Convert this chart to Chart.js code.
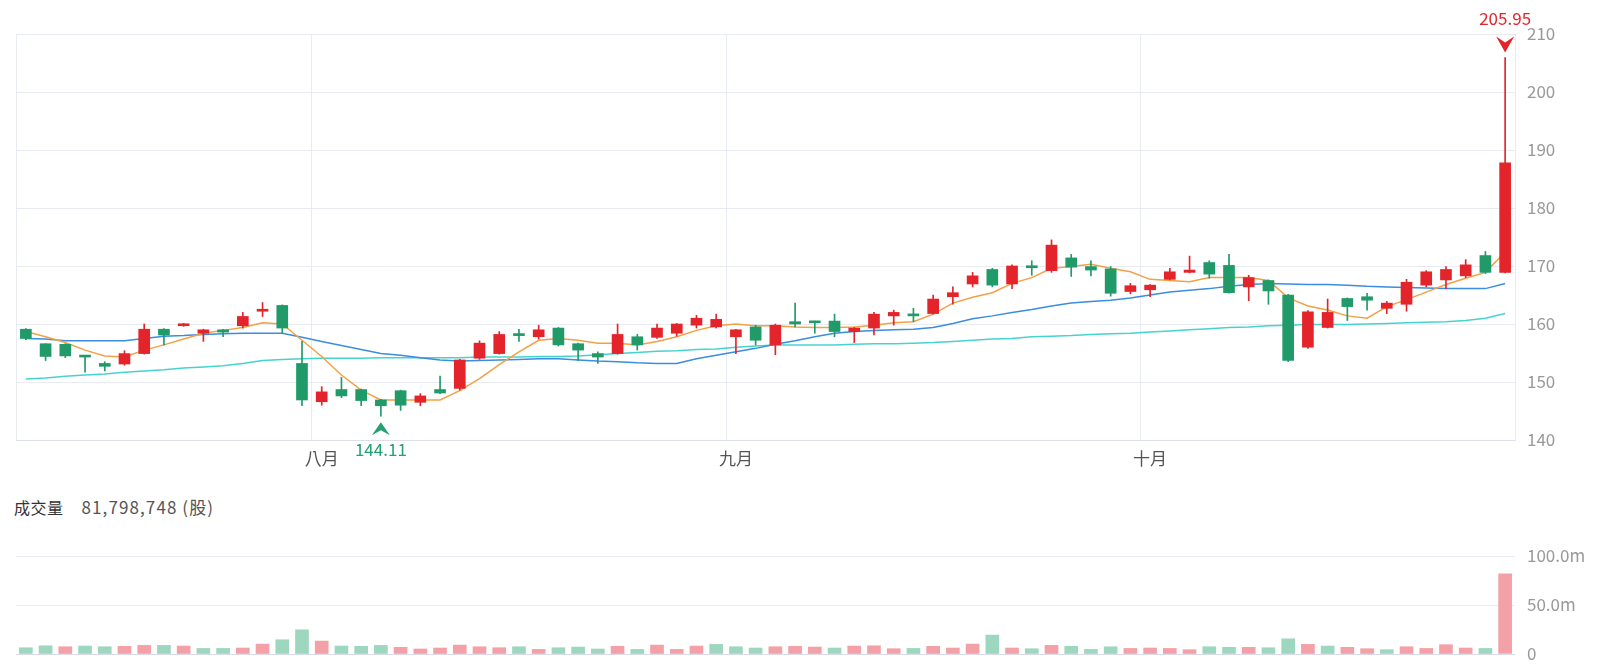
<!DOCTYPE html>
<html>
<head>
<meta charset="utf-8">
<script src="https://cdn.jsdelivr.net/npm/chart.js@4.4.0/dist/chart.umd.min.js"></script>
<style>
  body { margin: 0; background: #fff; width: 1600px; height: 668px; overflow: hidden;
         font-family: "Noto Sans CJK TC", "Noto Sans", sans-serif; }
  #main { position: absolute; left: 0; top: 0; }
  #vol { position: absolute; left: 0; top: 540px; }
  #volTitle { position: absolute; left: 14px; top: 495px; color: #444; white-space: pre; line-height: 24px; }
  #volTitle .lbl { font-size: 16px; letter-spacing: 0.5px; color: #333; }
  #volTitle .num { font-size: 17px; letter-spacing: 1.1px; margin-left: 18px; color: #555; }
</style>
</head>
<body>
<canvas id="main" width="1600" height="480"></canvas>
<div id="volTitle"><span class="lbl">成交量</span><span class="num" id="volNum"></span></div>
<canvas id="vol" width="1600" height="128"></canvas>
<script>
// 日K資料
const opens = [159.1,156.6,156.5,154.5,153.2,153.1,154.9,159.1,159.7,158.4,
  159.0,159.7,162.2,163.2,153.2,146.6,148.7,148.7,146.9,148.5,
  146.5,148.7,148.9,154.1,154.9,158.2,157.8,159.3,156.6,154.9,
  154.9,157.8,157.7,158.4,159.8,159.5,157.8,159.5,156.4,160.4,
  160.4,160.5,158.7,159.3,161.4,161.6,161.8,164.7,166.9,169.4,
  166.9,170.0,169.2,171.4,169.9,169.5,165.6,165.9,167.7,168.9,
  170.6,170.1,166.4,167.5,165.0,156.0,159.4,164.4,164.7,162.7,
  163.4,166.7,167.6,168.3,171.8,168.9];
const closes = [157.5,154.4,154.5,154.3,152.7,154.9,159.1,158.1,160.0,159.0,
  158.6,161.3,162.4,159.3,146.9,148.3,147.6,146.8,145.9,146.0,
  147.6,148.1,153.8,156.7,158.2,158.0,159.0,156.4,155.5,154.3,
  158.2,156.4,159.3,160.0,161.0,160.8,159.0,157.2,159.8,160.0,
  160.2,158.7,159.3,161.7,162.0,161.4,164.3,165.4,168.3,166.7,
  170.0,169.7,173.6,169.8,169.3,165.3,166.6,166.7,169.0,169.3,
  168.6,165.4,168.0,165.7,153.7,162.1,162.0,163.0,164.1,163.6,
  167.2,169.0,169.4,170.2,168.9,187.8];
const highs = [159.2,156.6,156.6,154.5,153.5,155.4,160.0,159.2,160.1,159.1,
  159.1,162.0,163.7,163.3,157.0,149.2,150.8,148.8,147.0,148.6,
  148.0,151.0,153.9,157.1,158.7,159.1,159.8,159.4,156.7,155.2,
  160.0,158.2,160.0,160.1,161.5,161.7,159.1,159.8,160.0,163.6,
  160.5,161.7,159.4,162.0,162.4,162.7,165.0,166.4,168.9,169.6,
  170.2,170.9,174.5,172.0,170.9,169.9,167.0,166.8,169.6,171.7,
  170.9,172.0,168.4,167.6,165.1,162.3,164.3,164.5,165.3,163.9,
  167.7,169.2,169.9,171.1,172.5,205.95];
const lows = [157.3,153.7,154.2,151.7,151.9,152.9,154.8,156.4,159.6,157.0,
  157.8,159.3,161.3,158.4,145.9,146.0,147.3,145.9,144.11,145.1,
  145.9,148.0,148.6,153.9,154.8,157.0,157.4,156.2,153.7,153.2,
  154.8,155.5,157.5,157.9,159.3,159.3,154.9,156.4,154.7,159.5,
  158.4,157.8,156.8,158.1,159.8,160.4,161.7,163.4,166.4,166.4,
  166.1,168.4,168.9,168.2,168.3,164.8,165.2,164.7,167.6,168.8,
  167.9,165.3,164.0,163.4,153.5,155.8,159.3,160.6,162.4,161.8,
  162.2,166.4,166.1,168.0,168.7,168.8];
const volumes = [6400000,8400000,7400000,8100000,7400000,7800000,8800000,8800000,8100000,5700000,
  5700000,6100000,10100000,14500000,24700000,13200000,8100000,7800000,8800000,6800000,
  5100000,6100000,9100000,7400000,6400000,7400000,4700000,6400000,7100000,5100000,
  7800000,4700000,9100000,4700000,8100000,9800000,7400000,6100000,7400000,7800000,
  7100000,6100000,8100000,8400000,5400000,5700000,7800000,6100000,10100000,19300000,
  6100000,5400000,8800000,7800000,4700000,7400000,5700000,6100000,5700000,4400000,
  7400000,6800000,6800000,6400000,15500000,9800000,8100000,6800000,5400000,4400000,
  7400000,5700000,9500000,6100000,5700000,81798748];

// 均線
const maShort = [158.7,157.8,156.8,155.5,154.5,154.3,155.5,156.4,157.4,158.4,
  158.9,159.4,160.2,160.0,157.2,154.4,151.2,148.6,146.9,146.9,
  146.9,146.9,148.5,150.6,153.0,155.2,157.2,157.5,157.2,156.7,
  156.7,156.4,157.0,157.8,158.9,159.7,160.0,159.7,159.7,159.5,
  159.4,159.4,159.5,159.8,160.2,160.4,161.7,163.6,164.6,165.4,
  167.0,168.0,169.6,169.9,170.3,169.6,169.0,167.7,167.5,167.3,
  168.0,168.0,168.0,167.5,164.5,163.1,162.4,161.4,161.0,163.0,
  164.2,165.5,166.8,167.9,168.9,172.4];
const maMid = [157.5,157.4,157.1,157.1,157.1,157.1,157.5,157.9,158.0,158.2,
  158.3,158.4,158.4,158.4,157.7,157.0,156.3,155.6,154.9,154.6,
  154.2,153.8,153.6,153.7,153.8,153.9,154.0,154.0,153.8,153.6,
  153.5,153.3,153.2,153.2,154.0,154.6,155.2,155.8,156.5,157.1,
  157.8,158.4,158.7,158.9,159.0,159.1,159.4,160.1,160.9,161.4,
  162.0,162.5,163.1,163.6,163.9,164.1,164.5,165.0,165.5,165.8,
  166.1,166.5,166.8,167.0,166.9,166.8,166.8,166.7,166.5,166.4,
  166.3,166.2,166.1,166.1,166.1,167.0];
const maLong = [150.5,150.7,151.0,151.2,151.4,151.7,151.9,152.1,152.4,152.6,
  152.8,153.2,153.7,153.9,154.0,154.1,154.1,154.1,154.2,154.2,
  154.2,154.2,154.2,154.3,154.3,154.3,154.4,154.4,154.5,154.7,
  154.9,155.1,155.3,155.4,155.6,155.7,156.0,156.2,156.4,156.4,
  156.4,156.4,156.5,156.6,156.6,156.7,156.8,157.0,157.2,157.4,
  157.5,157.8,157.9,158.0,158.2,158.3,158.4,158.6,158.8,159.0,
  159.2,159.4,159.5,159.7,159.8,159.9,159.9,159.9,160.0,160.1,
  160.2,160.3,160.4,160.6,161.0,161.8];

// 月份刻度
const monthIndex = [15, 36, 57];
const monthNames = ['八月', '九月', '十月'];

const RED = '#e3242b';
const GREEN = '#1f9a68';
const RED_LIGHT = '#f3a1a6';
const GREEN_LIGHT = '#9dd7c0';
const GRID = '#e9ebf3';
const FONT = '"Noto Sans CJK TC", "Noto Sans", sans-serif';

Chart.defaults.font.family = FONT;
Chart.defaults.animation = false;

const idx = opens.map((_, i) => i);
const candleColors = closes.map((c, i) => c >= opens[i] ? RED : GREEN);
// 成交量顏色: 跟前一日收市比較
const volColors = closes.map((c, i) => {
  const prev = i === 0 ? opens[0] : closes[i - 1];
  return c >= prev ? RED_LIGHT : GREEN_LIGHT;
});

// 最高/最低標記
const extremaPlugin = {
  id: 'extrema',
  afterDatasetsDraw(chart) {
    const { ctx, scales: { x, y } } = chart;
    const hi = highs.indexOf(Math.max(...highs));
    const lo = lows.indexOf(Math.min(...lows));
    ctx.save();
    ctx.font = '17px ' + FONT;
    ctx.textAlign = 'center';
    ctx.textBaseline = 'middle';

    let px = x.getPixelForValue(hi);
    let py = y.getPixelForValue(highs[hi]);
    ctx.fillStyle = RED;
    ctx.beginPath();
    ctx.moveTo(px - 9, py - 21);
    ctx.lineTo(px, py - 15);
    ctx.lineTo(px + 9, py - 21);
    ctx.lineTo(px, py - 5);
    ctx.closePath();
    ctx.fill();
    ctx.fillText(highs[hi].toFixed(2), px, py - 39);

    px = x.getPixelForValue(lo);
    py = y.getPixelForValue(lows[lo]);
    ctx.fillStyle = '#24a072';
    ctx.beginPath();
    ctx.moveTo(px - 9, py + 19);
    ctx.lineTo(px, py + 14);
    ctx.lineTo(px + 9, py + 19);
    ctx.lineTo(px, py + 6);
    ctx.closePath();
    ctx.fill();
    ctx.fillText(lows[lo].toFixed(2), px, py + 33);
    ctx.restore();
  }
};

const mainChart = new Chart(document.getElementById('main'), {
  type: 'bar',
  data: {
    labels: idx,
    datasets: [
      { type: 'bar', data: opens.map((o, i) => [o, closes[i]]), backgroundColor: candleColors,
        barThickness: 11, minBarLength: 2, grouped: false, order: 0 },
      { type: 'bar', data: lows.map((l, i) => [l, highs[i]]), backgroundColor: candleColors,
        barThickness: 1, grouped: false, order: 1 },
      { type: 'line', data: maShort, borderColor: '#f4a044', borderWidth: 1.5, pointRadius: 0, order: 2 },
      { type: 'line', data: maMid, borderColor: '#3a8de0', borderWidth: 1.5, pointRadius: 0, order: 3 },
      { type: 'line', data: maLong, borderColor: '#46d3d0', borderWidth: 1.5, pointRadius: 0, order: 4 }
    ]
  },
  options: {
    responsive: false,
    layout: { padding: { left: 16, top: 34, right: 0, bottom: 0 } },
    plugins: { legend: { display: false }, tooltip: { enabled: false } },
    scales: {
      x: {
        offset: true,
        grid: {
          offset: true,
          drawTicks: false,
          color: ctx => (ctx.index === undefined || ctx.index === 0 || monthIndex.includes(ctx.index)) ? GRID : 'rgba(0,0,0,0)'
        },
        border: { color: '#dde0ea' },
        ticks: {
          autoSkip: false, maxRotation: 0, padding: 8, color: '#555',
          font: { size: 17 },
          callback: (v, i) => {
            const k = monthIndex.indexOf(i);
            return k >= 0 ? monthNames[k] : '';
          }
        },
        afterFit: s => { s.height = 40; }
      },
      y: {
        position: 'right',
        min: 140, max: 210,
        grid: { color: GRID, drawTicks: false },
        border: { color: GRID },
        ticks: { stepSize: 10, padding: 12, color: '#999', font: { size: 17 } },
        afterFit: s => { s.width = 85; }
      }
    }
  },
  plugins: [extremaPlugin]
});

document.getElementById('volNum').textContent =
  volumes[volumes.length - 1].toLocaleString('en-US') + ' (股)';

const volChart = new Chart(document.getElementById('vol'), {
  type: 'bar',
  data: {
    labels: idx,
    datasets: [{ data: volumes, backgroundColor: volColors, barThickness: 13 }]
  },
  options: {
    responsive: false,
    layout: { padding: { left: 16, top: 16, right: 0, bottom: 14 } },
    plugins: { legend: { display: false }, tooltip: { enabled: false } },
    scales: {
      x: { display: false, offset: true },
      y: {
        position: 'right',
        min: 0, max: 100000000,
        grid: { color: ctx => ctx.tick && ctx.tick.value === 0 ? '#d9dce6' : GRID, drawTicks: false },
        border: { display: false },
        ticks: {
          stepSize: 50000000, padding: 12, color: '#999', font: { size: 17 },
          callback: v => v === 0 ? '0' : (v / 1000000).toFixed(1) + 'm'
        },
        // 標籤不要擠壓繪圖區
        afterFit: s => { s.width = 85; s.paddingTop = 0; s.paddingBottom = 0; }
      }
    }
  }
});
</script>
</body>
</html>
